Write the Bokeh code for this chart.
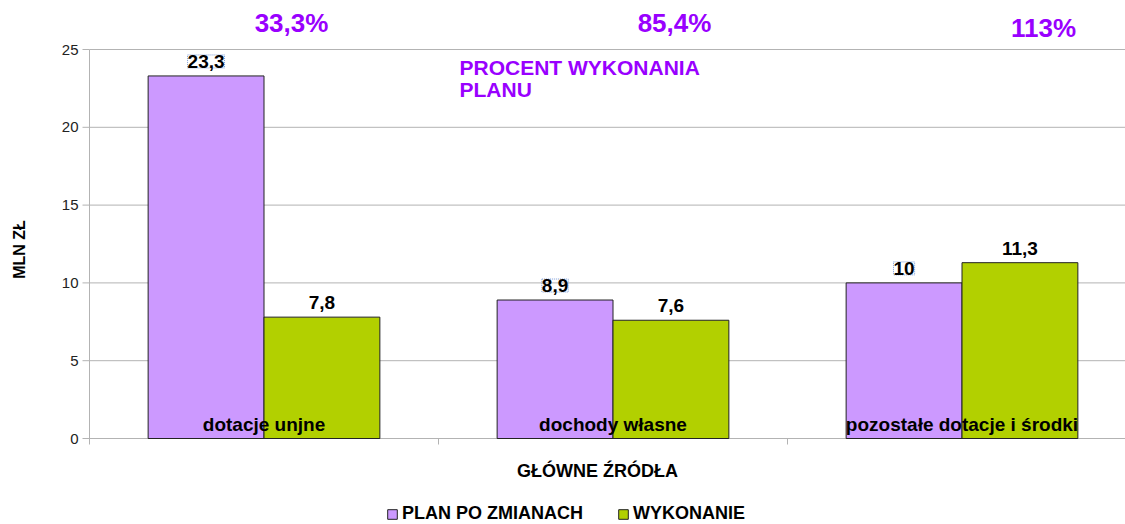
import math
from bokeh.plotting import figure
from bokeh.models import Range1d, ColumnDataSource, Legend, LegendItem
from bokeh.core.properties import value
from bokeh.embed import file_html
from bokeh.resources import INLINE

# ---------------- data ----------------
categories = ["dotacje unjne", "dochody własne", "pozostałe dotacje i środki"]
plan = [23.3, 8.9, 10.0]
wykonanie = [7.8, 7.6, 11.3]
percent_labels = ["33,3%", "85,4%", "113%"]
series_names = ["PLAN PO ZMIANACH", "WYKONANIE"]
y_ticks = [0, 5, 10, 15, 20, 25]
y_axis_title = "MLN ZŁ"
x_axis_title = "GŁÓWNE ŹRÓDŁA"
note_lines = ["PROCENT WYKONANIA", "PLANU"]

# ---------------- style / layout ----------------
FONT = value("Liberation Sans")
PURPLE = "#cc99ff"
GREEN = "#b2d000"
VIOLET = "#9900ff"
GRID = "#b3b3b3"
W, H = 1125, 524
AX_LEFT, AX_BOTTOM, AX_TOP = 89, 438, 49      # pixel positions of the plot area
PX_CAT = 349.0                                 # pixels per category
YMAX = 25.0
PX_Y = (AX_BOTTOM - AX_TOP) / YMAX             # pixels per unit


def fmt(v):
    return f"{v:g}".replace(".", ",")


def dx(px):  # pixel distance -> data (x)
    return px / PX_CAT


def dy(px):  # pixel distance -> data (y)
    return px / PX_Y


n = len(categories)
centers = [i + 0.5 for i in range(n)]
bw = 0.332
x_end = dx(W - AX_LEFT)

src_plan = ColumnDataSource(dict(x=[c - bw / 2 for c in centers], top=plan,
                                 label=[fmt(v) for v in plan]))
src_wyk = ColumnDataSource(dict(x=[c + bw / 2 for c in centers], top=wykonanie,
                                label=[fmt(v) for v in wykonanie]))
src_cat = ColumnDataSource(dict(x=centers, y=[0] * n, label=categories))

p = figure(width=W, height=H,
           x_range=Range1d(-dx(AX_LEFT), x_end),
           y_range=Range1d(-dy(H - AX_BOTTOM), YMAX + dy(AX_TOP)),
           output_backend="svg", toolbar_location=None,
           min_border_left=0, min_border_right=0, min_border_top=0, min_border_bottom=0)
p.outline_line_color = None
p.axis.visible = False
p.grid.visible = False
p.background_fill_color = "white"
p.border_fill_color = "white"

# value axis: grid lines, axis line, ticks, tick labels
p.segment(x0=[0] * len(y_ticks), x1=[x_end] * len(y_ticks), y0=y_ticks, y1=y_ticks,
          line_color=GRID, line_width=1)
p.segment(x0=[-dx(7)] * len(y_ticks), x1=[0] * len(y_ticks), y0=y_ticks, y1=y_ticks,
          line_color=GRID, line_width=1)
p.segment(x0=[0], x1=[0], y0=[-dy(6)], y1=[YMAX], line_color=GRID, line_width=1)
p.text(x=[0] * len(y_ticks), y=y_ticks, text=[str(t) for t in y_ticks], x_offset=-11,
       text_align="right", text_baseline="middle", text_font=FONT,
       text_font_size="15px", text_color="#222222")
# category axis boundary ticks
bounds = list(range(1, n))
p.segment(x0=bounds, x1=bounds, y0=[0] * len(bounds), y1=[-dy(6)] * len(bounds),
          line_color=GRID, line_width=1)

# bars
r_plan = p.vbar(x="x", top="top", width=bw, source=src_plan, fill_color=PURPLE,
                line_color="#222222", line_width=1)
r_wyk = p.vbar(x="x", top="top", width=bw, source=src_wyk, fill_color=GREEN,
               line_color="#222222", line_width=1)

# value labels (screen y_offset: positive = down)
p.text(x="x", y="top", text="label", source=src_plan, y_offset=-8,
       text_align="center", text_baseline="bottom", text_font=FONT,
       text_font_size="19px", text_font_style="bold", text_color="black",
       border_line_color="#7a9ad6", border_line_dash="1 1", border_line_width=1,
       padding=0)
p.text(x="x", y="top", text="label", source=src_wyk, y_offset=-8,
       text_align="center", text_baseline="bottom", text_font=FONT,
       text_font_size="19px", text_font_style="bold", text_color="black")
# category labels inside bars
p.text(x="x", y="y", text="label", source=src_cat, y_offset=-14,
       text_align="center", text_baseline="alphabetic", text_font=FONT,
       text_font_size="19px", text_font_style="bold", text_color="black")

# percent labels above plot area
pct_x = [dx(291 - AX_LEFT), dx(674 - AX_LEFT), dx(1043 - AX_LEFT)]
pct_y = [dy(AX_BOTTOM - 22), dy(AX_BOTTOM - 22), dy(AX_BOTTOM - 27)]
p.text(x=pct_x, y=pct_y, text=percent_labels, text_align="center", text_baseline="middle",
       text_font=FONT, text_font_size="26px", text_font_style="bold", text_color=VIOLET)

# note text
p.text(x=[dx(459 - AX_LEFT)] * 2, y=[dy(AX_BOTTOM - 67), dy(AX_BOTTOM - 89)], text=note_lines,
       text_align="left", text_baseline="middle", text_font=FONT, text_font_size="21px",
       text_font_style="bold", text_color=VIOLET)

# axis titles
p.text(x=[dx(597 - AX_LEFT)], y=[-dy(470 - AX_BOTTOM)], text=[x_axis_title],
       text_align="center", text_baseline="middle", text_font=FONT, text_font_size="18px",
       text_font_style="bold", text_color="black")
p.text(x=[-dx(AX_LEFT - 19)], y=[dy(AX_BOTTOM - 249)], text=[y_axis_title], angle=math.pi / 2,
       text_align="center", text_baseline="middle", text_font=FONT, text_font_size="16px",
       text_font_style="bold", text_color="black")

# legend
legend = Legend(items=[LegendItem(label=series_names[0], renderers=[r_plan]),
                       LegendItem(label=series_names[1], renderers=[r_wyk])],
                orientation="horizontal", location=(386, 0),
                glyph_width=12, glyph_height=12, label_standoff=4, spacing=34,
                padding=0, margin=0, border_line_color=None, background_fill_alpha=0,
                label_text_font="Liberation Sans", label_text_font_size="18px",
                label_text_font_style="bold", label_text_color="black",
                label_height=18)
p.add_layout(legend)

open("out.html", "w").write(file_html(p, INLINE))
